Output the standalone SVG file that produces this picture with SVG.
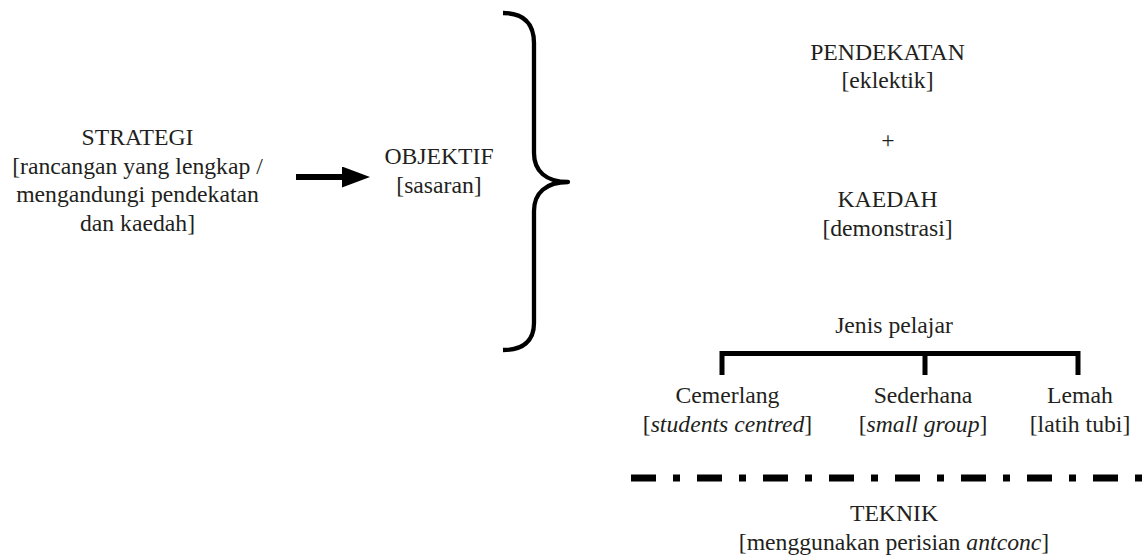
<svg xmlns="http://www.w3.org/2000/svg" width="1142" height="555" viewBox="0 0 1142 555">
  <style>
    .t text { font-family: 'Liberation Serif', 'Times New Roman', 'DejaVu Serif', serif; font-size: 23.7px; fill: #231f20; text-anchor: middle; }
    .it { font-style: italic; }
    .ln { fill: none; stroke: #000; stroke-linecap: butt; }
  </style>
  <defs>
    <marker id="ah" markerUnits="userSpaceOnUse" markerWidth="28" markerHeight="21" refX="0" refY="10.5" orient="auto">
      <path d="M0,0 L28,10.5 L0,21 Z" fill="#000"/>
    </marker>
  </defs>
  <rect width="1142" height="555" fill="#fff"/>

  <g id="connectors">
    <line class="ln" x1="296" y1="177" x2="342" y2="177" stroke-width="6" marker-end="url(#ah)"/>
    <path id="brace" class="ln" stroke-width="4.3" stroke-linejoin="round" d="M503,13 C523,13 534,23 534,43 L534,153 C534,171 546,182 568,182 C546,182 534,193 534,211 L534,323 C534,341 523,350 503,350"/>
    <path id="bracket" class="ln" stroke-width="5" stroke-linejoin="miter" d="M722,375 L722,353.5 L1078,353.5 L1078,375 M925,353.5 L925,375"/>
    <line id="divider" class="ln" x1="631" y1="478" x2="1142" y2="478" stroke-width="7" stroke-dasharray="25 17 7 17"/>
  </g>

  <g class="t" font-family="Liberation Serif, Times New Roman, DejaVu Serif, serif">
  <g id="strategi">
    <text x="137.5" y="145">STRATEGI</text>
    <text x="137.5" y="173.5">[rancangan yang lengkap /</text>
    <text x="137.5" y="202">mengandungi pendekatan</text>
    <text x="137.5" y="230.5">dan kaedah]</text>
  </g>
  <g id="objektif">
    <text x="439" y="164">OBJEKTIF</text>
    <text x="439" y="193">[sasaran]</text>
  </g>
  <g id="pendekatan">
    <text x="887.5" y="60">PENDEKATAN</text>
    <text x="887.5" y="88">[eklektik]</text>
  </g>
  <g id="plus">
    <text x="888" y="148">+</text>
  </g>
  <g id="kaedah">
    <text x="887.5" y="207">KAEDAH</text>
    <text x="887.5" y="236">[demonstrasi]</text>
  </g>
  <g id="jenis-pelajar">
    <text x="894" y="333">Jenis pelajar</text>
  </g>
  <g id="cemerlang">
    <text x="727.5" y="403">Cemerlang</text>
    <text x="727.5" y="432">[<tspan class="it">students centred</tspan>]</text>
  </g>
  <g id="sederhana">
    <text x="923" y="403">Sederhana</text>
    <text x="923" y="432">[<tspan class="it">small group</tspan>]</text>
  </g>
  <g id="lemah">
    <text x="1080" y="403">Lemah</text>
    <text x="1080" y="432">[latih tubi]</text>
  </g>
  <g id="teknik">
    <text x="894" y="521">TEKNIK</text>
    <text x="894" y="549.5">[menggunakan perisian <tspan class="it">antconc</tspan>]</text>
  </g>
  </g>
</svg>
